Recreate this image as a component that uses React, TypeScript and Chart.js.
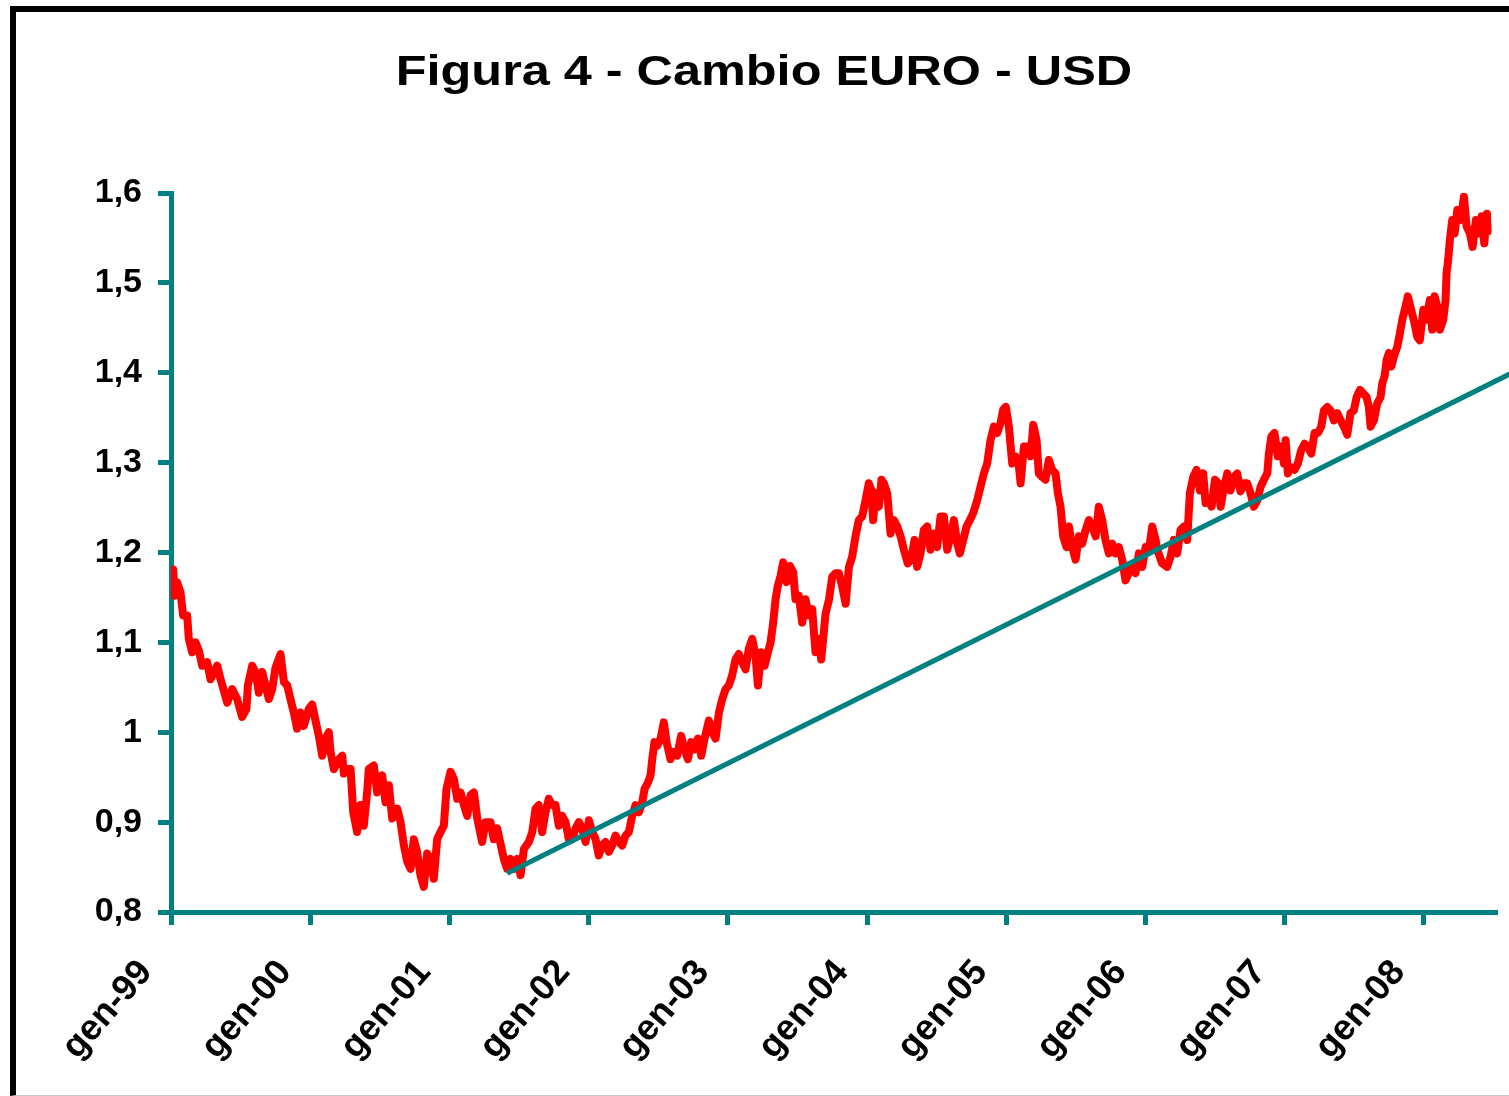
import React, { useEffect, useRef } from "react";
import { Chart, registerables } from "chart.js";

Chart.register(...registerables);

const TITLE = "Figura 4 - Cambio EURO - USD";
const TEAL = "#008080";
const RED = "#ff0000";
const FONT = "'Liberation Sans', Arial, Helvetica, sans-serif";

const xTickLabels = ["gen-99", "gen-00", "gen-01", "gen-02", "gen-03", "gen-04", "gen-05", "gen-06", "gen-07", "gen-08"];
const yTickLabels = ["0,8", "0,9", "1", "1,1", "1,2", "1,3", "1,4", "1,5", "1,6"];
const X_FIRST_YEAR = 1999;
const X_LAST = 2008.511;
const Y_MIN = 0.8;
const Y_MAX = 1.6;

// EUR/USD daily series (decimal years)
const dates1999_2001 = [
  1999.016, 1999.025, 1999.044, 1999.068, 1999.087, 1999.116, 1999.128, 1999.152, 1999.176, 1999.2,
  1999.224, 1999.26, 1999.284, 1999.308, 1999.332, 1999.356, 1999.38, 1999.404, 1999.439, 1999.475,
  1999.511, 1999.542, 1999.552, 1999.583, 1999.607, 1999.631, 1999.655, 1999.679, 1999.703, 1999.727,
  1999.751, 1999.787, 1999.811, 1999.835, 1999.858, 1999.882, 1999.906, 1999.93, 1999.954, 1999.99,
  2000.014, 2000.038, 2000.062, 2000.086, 2000.11, 2000.134, 2000.146, 2000.17, 2000.206, 2000.23,
  2000.242, 2000.266, 2000.29, 2000.309, 2000.337, 2000.361, 2000.385, 2000.409, 2000.421, 2000.457,
  2000.481, 2000.517, 2000.541, 2000.565, 2000.589, 2000.625, 2000.649, 2000.673, 2000.697, 2000.721,
  2000.744, 2000.768, 2000.792, 2000.816, 2000.84, 2000.864, 2000.888, 2000.912, 2000.936, 2000.96,
  2000.979, 2001.008, 2001.032, 2001.056, 2001.08, 2001.104, 2001.128, 2001.152, 2001.176, 2001.2,
  2001.235, 2001.259, 2001.295, 2001.319, 2001.343,
];
const rates1999_2001 = [
  1.181, 1.152, 1.167, 1.156, 1.13, 1.13, 1.104, 1.089, 1.1, 1.091,
  1.074, 1.078, 1.059, 1.067, 1.074, 1.059, 1.046, 1.033, 1.048, 1.037,
  1.017, 1.026, 1.052, 1.074, 1.067, 1.044, 1.067, 1.052, 1.037, 1.048,
  1.072, 1.087, 1.056, 1.052, 1.037, 1.022, 1.004, 1.022, 1.007, 1.026,
  1.031, 1.013, 0.996, 0.974, 0.993, 1.0, 0.978, 0.959, 0.97, 0.974,
  0.954, 0.959, 0.959, 0.911, 0.889, 0.919, 0.896, 0.933, 0.959, 0.963,
  0.933, 0.952, 0.922, 0.941, 0.904, 0.915, 0.9, 0.874, 0.856, 0.848,
  0.881, 0.867, 0.841, 0.828, 0.865, 0.859, 0.837, 0.881, 0.889, 0.896,
  0.937, 0.956, 0.948, 0.926, 0.933, 0.919, 0.907, 0.93, 0.933, 0.904,
  0.878, 0.9, 0.9, 0.881, 0.893,
];

const dates2001_2003 = [
  2001.391, 2001.415, 2001.439, 2001.463, 2001.487, 2001.511, 2001.535, 2001.571, 2001.595, 2001.619,
  2001.642, 2001.666, 2001.69, 2001.714, 2001.738, 2001.762, 2001.786, 2001.81, 2001.834, 2001.858,
  2001.882, 2001.906, 2001.93, 2001.954, 2001.978, 2002.002, 2002.026, 2002.05, 2002.073, 2002.097,
  2002.121, 2002.145, 2002.169, 2002.193, 2002.217, 2002.241, 2002.265, 2002.289, 2002.313, 2002.337,
  2002.361, 2002.385, 2002.402, 2002.426, 2002.445, 2002.457, 2002.473, 2002.493, 2002.517, 2002.54,
  2002.56, 2002.588, 2002.612, 2002.636, 2002.665, 2002.689, 2002.713, 2002.737, 2002.761, 2002.785,
  2002.809, 2002.833, 2002.864, 2002.888, 2002.912, 2002.936, 2002.96, 2002.984, 2003.007, 2003.031,
  2003.055, 2003.079, 2003.103, 2003.127, 2003.151, 2003.175, 2003.199, 2003.216, 2003.24, 2003.264,
  2003.288, 2003.307, 2003.326, 2003.343, 2003.359, 2003.379, 2003.398, 2003.422, 2003.446, 2003.47,
  2003.486, 2003.51, 2003.534, 2003.558, 2003.582, 2003.606, 2003.63, 2003.654, 2003.671,
];
const rates2001_2003 = [
  0.859, 0.848, 0.859, 0.848, 0.859, 0.841, 0.87, 0.878, 0.889, 0.915,
  0.919, 0.889, 0.911, 0.926, 0.919, 0.919, 0.896, 0.907, 0.9, 0.881,
  0.881, 0.893, 0.9, 0.893, 0.878, 0.902, 0.889, 0.881, 0.863, 0.874,
  0.878, 0.867, 0.874, 0.885, 0.878, 0.874, 0.885, 0.889, 0.907, 0.919,
  0.911, 0.922, 0.937, 0.944, 0.952, 0.97, 0.989, 0.985, 0.993, 1.011,
  0.989, 0.97, 0.978, 0.974, 0.996, 0.981, 0.97, 0.989, 0.981, 0.993,
  0.974, 0.993, 1.013, 1.0, 0.993, 1.022, 1.037, 1.048, 1.052, 1.063,
  1.081, 1.087, 1.078, 1.07, 1.093, 1.104, 1.085, 1.052, 1.089, 1.074,
  1.089, 1.1, 1.122, 1.148, 1.163, 1.174, 1.189, 1.167, 1.185, 1.178,
  1.148, 1.152, 1.122, 1.148, 1.13, 1.137, 1.089, 1.104, 1.081,
];

const dates2003_2006 = [
  2003.702, 2003.726, 2003.75, 2003.774, 2003.798, 2003.822, 2003.846, 2003.87, 2003.893, 2003.917,
  2003.941, 2003.965, 2003.989, 2004.013, 2004.03, 2004.044, 2004.061, 2004.085, 2004.104, 2004.121,
  2004.145, 2004.169, 2004.193, 2004.217, 2004.241, 2004.265, 2004.293, 2004.317, 2004.341, 2004.36,
  2004.384, 2004.408, 2004.432, 2004.456, 2004.48, 2004.504, 2004.528, 2004.552, 2004.576, 2004.6,
  2004.624, 2004.648, 2004.667, 2004.691, 2004.715, 2004.739, 2004.763, 2004.791, 2004.815, 2004.839,
  2004.863, 2004.887, 2004.911, 2004.935, 2004.959, 2004.978, 2004.997, 2005.019, 2005.043, 2005.067,
  2005.091, 2005.103, 2005.127, 2005.151, 2005.175, 2005.194, 2005.218, 2005.234, 2005.258, 2005.282,
  2005.306, 2005.33, 2005.354, 2005.371, 2005.39, 2005.409, 2005.433, 2005.45, 2005.474, 2005.498,
  2005.522, 2005.546, 2005.57, 2005.594, 2005.618, 2005.642, 2005.665, 2005.689, 2005.713, 2005.737,
  2005.761, 2005.785, 2005.809, 2005.833, 2005.857, 2005.881, 2005.905, 2005.929, 2005.953, 2005.977,
  2006.001, 2006.025, 2006.049, 2006.073,
];
const rates2003_2006 = [
  1.132, 1.147, 1.173, 1.177, 1.177, 1.162, 1.143, 1.184, 1.195, 1.218,
  1.236, 1.24, 1.258, 1.277, 1.27, 1.236, 1.266, 1.251, 1.281, 1.277,
  1.266, 1.221, 1.236, 1.229, 1.218, 1.203, 1.188, 1.192, 1.214, 1.184,
  1.199, 1.225, 1.229, 1.203, 1.221, 1.206, 1.24, 1.24, 1.203, 1.218,
  1.236, 1.21, 1.199, 1.214, 1.229, 1.236, 1.244, 1.258, 1.273, 1.288,
  1.299, 1.325, 1.34, 1.333, 1.344, 1.359, 1.362, 1.34, 1.299, 1.307,
  1.296, 1.277, 1.318, 1.318, 1.307, 1.342, 1.325, 1.288, 1.284, 1.281,
  1.303, 1.292, 1.288, 1.266, 1.251, 1.218, 1.206, 1.229, 1.206, 1.192,
  1.218, 1.21, 1.225, 1.236, 1.229, 1.218, 1.251, 1.236, 1.214, 1.199,
  1.21, 1.199, 1.206, 1.192, 1.169, 1.177, 1.184, 1.177, 1.199, 1.184,
  1.206, 1.203, 1.229, 1.214,
];

const dates2006_2008 = [
  2006.085, 2006.12, 2006.156, 2006.18, 2006.204, 2006.228, 2006.252, 2006.276, 2006.3, 2006.319,
  2006.343, 2006.367, 2006.391, 2006.415, 2006.432, 2006.456, 2006.475, 2006.499, 2006.523, 2006.54,
  2006.564, 2006.588, 2006.611, 2006.635, 2006.659, 2006.683, 2006.707, 2006.731, 2006.755, 2006.779,
  2006.803, 2006.827, 2006.851, 2006.875, 2006.887, 2006.904, 2006.927, 2006.951, 2006.975, 2006.995,
  2007.007, 2007.023, 2007.047, 2007.071, 2007.095, 2007.119, 2007.143, 2007.167, 2007.191, 2007.215,
  2007.239, 2007.263, 2007.282, 2007.306, 2007.33, 2007.354, 2007.378, 2007.402, 2007.426, 2007.45,
  2007.473, 2007.497, 2007.517, 2007.541, 2007.565, 2007.588, 2007.605, 2007.617, 2007.641, 2007.665,
  2007.689, 2007.701, 2007.718, 2007.732, 2007.749, 2007.766, 2007.785, 2007.809, 2007.828, 2007.845,
  2007.869, 2007.885, 2007.909, 2007.933, 2007.952, 2007.971, 2007.996, 2008.019, 2008.043, 2008.06,
  2008.077, 2008.096, 2008.115, 2008.139, 2008.156, 2008.163, 2008.175, 2008.187, 2008.204, 2008.221,
  2008.24, 2008.264, 2008.288, 2008.307, 2008.331, 2008.35, 2008.374, 2008.398, 2008.415, 2008.434,
  2008.453, 2008.458,
];
const rates2006_2008 = [
  1.203, 1.188, 1.184, 1.195, 1.214, 1.199, 1.225, 1.229, 1.214, 1.266,
  1.284, 1.292, 1.269, 1.288, 1.255, 1.258, 1.251, 1.281, 1.277, 1.251,
  1.273, 1.288, 1.269, 1.284, 1.288, 1.268, 1.277, 1.277, 1.266, 1.251,
  1.258, 1.273, 1.281, 1.288, 1.31, 1.329, 1.333, 1.307, 1.318, 1.299,
  1.325, 1.288, 1.295, 1.292, 1.299, 1.314, 1.321, 1.318, 1.31, 1.333,
  1.333, 1.34, 1.358, 1.362, 1.358, 1.347, 1.355, 1.347, 1.34, 1.331,
  1.355, 1.358, 1.373, 1.381, 1.377, 1.373, 1.362, 1.34, 1.347, 1.366,
  1.373, 1.388, 1.396, 1.414, 1.422, 1.407, 1.418, 1.429, 1.444, 1.459,
  1.474, 1.485, 1.47, 1.455, 1.44, 1.436, 1.47, 1.459, 1.481, 1.448,
  1.485, 1.474, 1.448, 1.459, 1.481, 1.511, 1.526, 1.548, 1.57, 1.555,
  1.581, 1.57, 1.596, 1.563, 1.555, 1.54, 1.57, 1.555, 1.574, 1.544,
  1.577, 1.557,
];

// Linear trend line (teal)
const trendDates = [2001.415, 2008.7];
const trendValues = [0.843, 1.405];

export default function App() {
  const canvasRef = useRef<HTMLCanvasElement | null>(null);

  useEffect(() => {
    document.body.style.margin = "0";
    const canvas = canvasRef.current;
    if (!canvas) return;

    const allDates = [...dates1999_2001, ...dates2001_2003, ...dates2003_2006, ...dates2006_2008];
    const allRates = [...rates1999_2001, ...rates2001_2003, ...rates2003_2006, ...rates2006_2008];

    const titlePlugin = {
      id: "stretchedTitle",
      afterDraw(chart: any) {
        const ctx = chart.ctx as CanvasRenderingContext2D;
        ctx.save();
        ctx.font = `bold 42px ${FONT}`;
        ctx.fillStyle = "#000";
        ctx.textAlign = "center";
        ctx.textBaseline = "alphabetic";
        ctx.translate(764, 85);
        ctx.scale(1.2, 1);
        ctx.fillText(TITLE, 0, 0);
        ctx.restore();
      },
    };

    const xTickFont = { family: FONT, size: 36, weight: "bold" as const };
    const yTickFont = { family: FONT, size: 34, weight: "bold" as const };

    const chart = new Chart(canvas, {
      type: "line",
      data: {
        datasets: [
          {
            label: "Trend",
            data: trendDates.map((x, i) => ({ x, y: trendValues[i] })),
            borderColor: TEAL,
            borderWidth: 5,
            pointRadius: 0,
            clip: false as any,
          },
          {
            label: "EURO - USD",
            data: allDates.map((x, i) => ({ x, y: allRates[i] })),
            borderColor: RED,
            borderWidth: 8,
            pointRadius: 0,
            tension: 0,
            borderJoinStyle: "round",
            borderCapStyle: "round",
          },
        ],
      },
      options: {
        animation: false,
        responsive: false,
        events: [],
        layout: { padding: { left: 0, right: 14, top: 193, bottom: 0 } },
        plugins: {
          legend: { display: false },
          title: { display: false },
          tooltip: { enabled: false },
        },
        scales: {
          x: {
            type: "linear",
            min: X_FIRST_YEAR,
            max: X_LAST,
            afterFit: (s: any) => {
              s.height = 184;
            },
            border: { color: TEAL, width: 5 },
            grid: { drawOnChartArea: false, color: TEAL, lineWidth: 5, tickLength: 13 },
            ticks: {
              stepSize: 1,
              includeBounds: false,
              autoSkip: false,
              minRotation: 49,
              maxRotation: 49,
              padding: 27,
              labelOffset: -25,
              color: "#000",
              font: xTickFont,
              callback: (v: any) => xTickLabels[Math.round(Number(v) - X_FIRST_YEAR)] ?? "",
            },
          },
          y: {
            type: "linear",
            min: Y_MIN,
            max: Y_MAX,
            afterFit: (s: any) => {
              s.width = 171;
            },
            border: { color: TEAL, width: 5 },
            grid: { drawOnChartArea: false, color: TEAL, lineWidth: 5, tickLength: 13 },
            ticks: {
              stepSize: 0.1,
              padding: 16,
              color: "#000",
              font: yTickFont,
              callback: (v: any) => yTickLabels[Math.round((Number(v) - Y_MIN) * 10)] ?? "",
            },
          },
        },
      },
      plugins: [titlePlugin],
    });

    return () => chart.destroy();
  }, []);

  return (
    <div style={{ position: "relative", width: 1509, height: 1096, overflow: "hidden", background: "#fff" }}>
      <div
        style={{
          position: "absolute",
          left: 10,
          top: 6,
          width: 1520,
          height: 1090,
          boxSizing: "border-box",
          borderLeft: "6px solid #000",
          borderTop: "6px solid #000",
          borderBottom: "1px solid #c8c8c8",
        }}
      />
      <canvas
        ref={canvasRef}
        width={1509}
        height={1096}
        style={{ position: "absolute", left: 0, top: 0, width: 1509, height: 1096 }}
      />
    </div>
  );
}
